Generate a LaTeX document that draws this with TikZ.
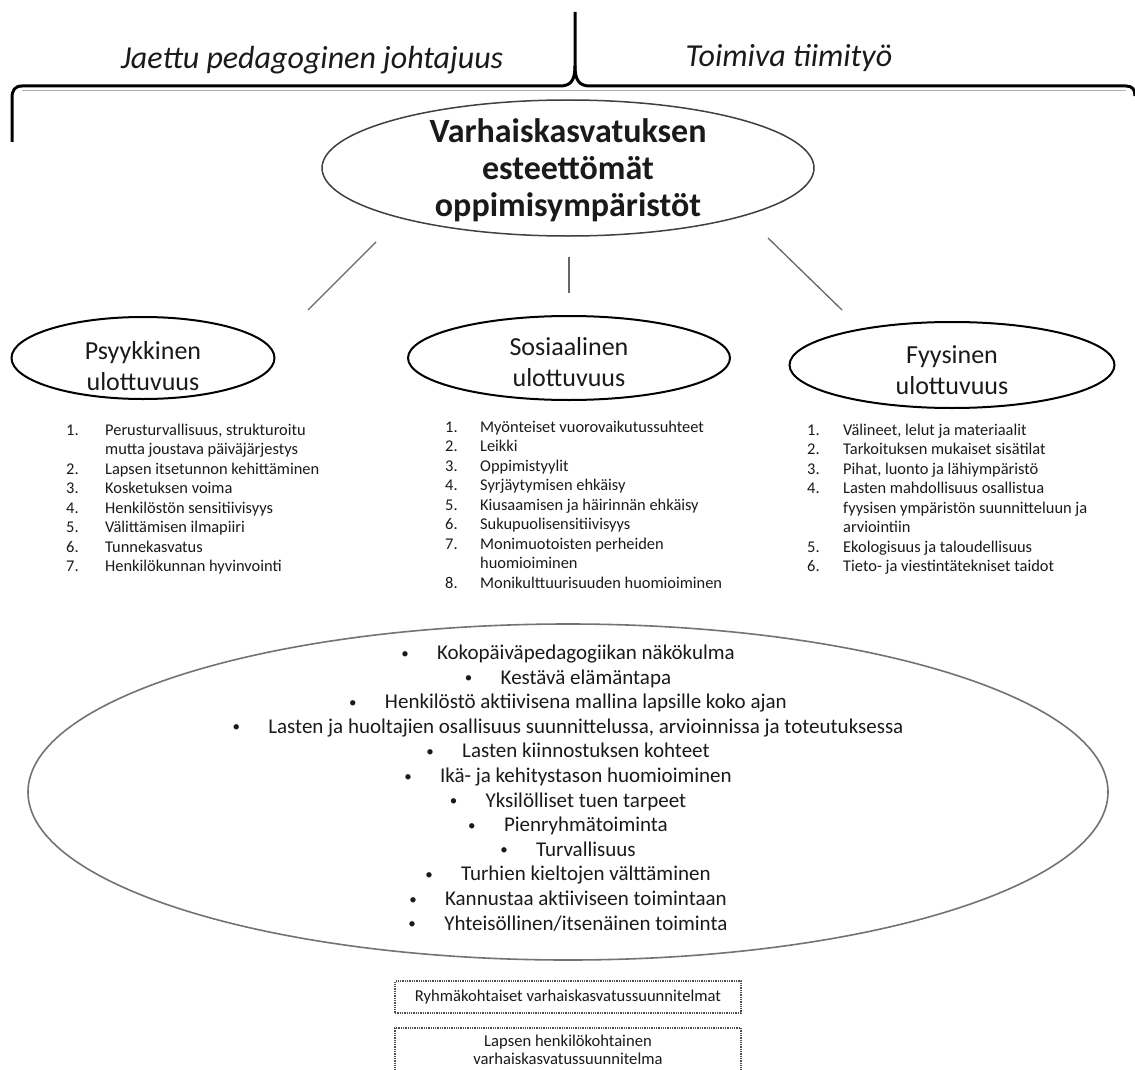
\documentclass[tikz,border=0pt]{standalone}
\usepackage{fontspec}
\setmainfont{Carlito}
\usetikzlibrary{shapes.geometric}
\definecolor{ink}{HTML}{1A1A1A}
\newcommand{\mybul}{{\fontsize{15}{15}\selectfont\raisebox{1.5pt}{•}}\hspace{1.35em}}
\begin{document}
\begin{tikzpicture}[x=1pt,y=-1pt,
  ell/.style={ellipse, draw, inner sep=0pt},
  mainell/.style={ell, draw=black!75, line width=1.5pt},
  dimell/.style={ell, draw=black, line width=2pt},
  bigell/.style={ell, draw=black!55, line width=1.6pt},
  conn/.style={draw=black!60, line width=1.3pt},
  bracket/.style={draw=black, line width=3pt, line join=round},
  headtxt/.style={font=\fontsize{32}{38}\selectfont\itshape, text=ink, inner sep=0pt},
  titletxt/.style={font=\fontsize{34}{37}\selectfont\bfseries, text=ink, align=center, inner sep=0pt},
  dimtxt/.style={font=\fontsize{26}{31}\selectfont, text=ink, align=center, inner sep=0pt},
  listtxt/.style={font=\fontsize{16.4}{19.5}\selectfont, text=ink, inner sep=0pt},
  bigtxt/.style={font=\fontsize{21}{24.6}\selectfont, text=ink, align=center, inner sep=0pt},
  boxnode/.style={draw=black!70, densely dotted, line width=1.3pt, inner sep=0pt, align=center,
    font=\fontsize{16.6}{18.5}\selectfont, text=ink}
]
\useasboundingbox[fill=white] (0,0) rectangle (1135,1070);

% bracket
\draw[bracket] (12,142) -- (12,98) .. controls (12,90) and (15,86) .. (22,86) -- (560,86)
  .. controls (571,86) and (575,80) .. (575,66) -- (575,12);
\draw[bracket] (575,66) .. controls (575,80) and (579,86) .. (590,86) -- (1126,86)
  .. controls (1132,86) and (1135,89) .. (1135,96);
\draw[black!30, line width=1.2pt] (22,90.5) -- (1126,90.5);

\node[headtxt] (jaettu) at (312,60) {Jaettu pedagoginen johtajuus};
\node[headtxt] (toimiva) at (789,58) {Toimiva tiimityö};

% main ellipse
\node[mainell, minimum width=492, minimum height=136] (main) at (568,168) {};
\node[titletxt] (maint) at (568,170) {Varhaiskasvatuksen\\esteettömät\\oppimisympäristöt};

% dimension ellipses
\node[dimell, minimum width=263, minimum height=82] (psy) at (143,358) {};
\node[dimell, minimum width=322, minimum height=84] (sos) at (569,358) {};
\node[dimell, minimum width=325, minimum height=86] (fyy) at (952,365) {};
\node[dimtxt] (psyt) at (143,366) {Psyykkinen\\ulottuvuus};
\node[dimtxt] (sost) at (569,362) {Sosiaalinen\\ulottuvuus};
\node[dimtxt] (fyyt) at (952,370) {Fyysinen\\ulottuvuus};

% connectors
\coordinate (c1a) at (376,242); \coordinate (c1b) at (308,310);
\coordinate (c2a) at (569,257); \coordinate (c2b) at (569,293);
\coordinate (c3a) at (768,238); \coordinate (c3b) at (842,310);
\draw[conn] (c1a) -- (c1b);
\draw[conn] (c2a) -- (c2b);
\draw[conn] (c3a) -- (c3b);

% lists
\node[listtxt, anchor=base west] (psylist) at (66,435) {%
\begin{tabular}[t]{@{}p{39pt}@{}l@{}}
1. & Perusturvallisuus, strukturoitu\\
   & mutta joustava päiväjärjestys\\
2. & Lapsen itsetunnon kehittäminen\\
3. & Kosketuksen voima\\
4. & Henkilöstön sensitiivisyys\\
5. & Välittämisen ilmapiiri\\
6. & Tunnekasvatus\\
7. & Henkilökunnan hyvinvointi
\end{tabular}};

\node[listtxt, anchor=base west] (soslist) at (445,432) {%
\begin{tabular}[t]{@{}p{35pt}@{}l@{}}
1. & Myönteiset vuorovaikutussuhteet\\
2. & Leikki\\
3. & Oppimistyylit\\
4. & Syrjäytymisen ehkäisy\\
5. & Kiusaamisen ja häirinnän ehkäisy\\
6. & Sukupuolisensitiivisyys\\
7. & Monimuotoisten perheiden\\
   & huomioiminen\\
8. & Monikulttuurisuuden huomioiminen
\end{tabular}};

\node[listtxt, anchor=base west] (fyylist) at (807,435) {%
\begin{tabular}[t]{@{}p{36pt}@{}l@{}}
1. & Välineet, lelut ja materiaalit\\
2. & Tarkoituksen mukaiset sisätilat\\
3. & Pihat, luonto ja lähiympäristö\\
4. & Lasten mahdollisuus osallistua\\
   & fyysisen ympäristön suunnitteluun ja\\
   & arviointiin\\
5. & Ekologisuus ja taloudellisuus\\
6. & Tieto- ja viestintätekniset taidot
\end{tabular}};

% big ellipse
\node[bigell, minimum width=1080, minimum height=336] (big) at (568,792) {};
\node[bigtxt] (bigt) at (568,788) {%
\mybul Kokopäiväpedagogiikan näkökulma\\
\mybul Kestävä elämäntapa\\
\mybul Henkilöstö aktiivisena mallina lapsille koko ajan\\
\mybul Lasten ja huoltajien osallisuus suunnittelussa, arvioinnissa ja toteutuksessa\\
\mybul Lasten kiinnostuksen kohteet\\
\mybul Ikä- ja kehitystason huomioiminen\\
\mybul Yksilölliset tuen tarpeet\\
\mybul Pienryhmätoiminta\\
\mybul Turvallisuus\\
\mybul Turhien kieltojen välttäminen\\
\mybul Kannustaa aktiiviseen toimintaan\\
\mybul Yhteisöllinen/itsenäinen toiminta};

% bottom boxes
\node[boxnode, minimum width=346, minimum height=32] (box1) at (568,997) {Ryhmäkohtaiset varhaiskasvatussuunnitelmat};
\node[boxnode, minimum width=346, minimum height=44] (box2) at (568,1050) {Lapsen henkilökohtainen\\varhaiskasvatussuunnitelma};
\end{tikzpicture}
\end{document}
